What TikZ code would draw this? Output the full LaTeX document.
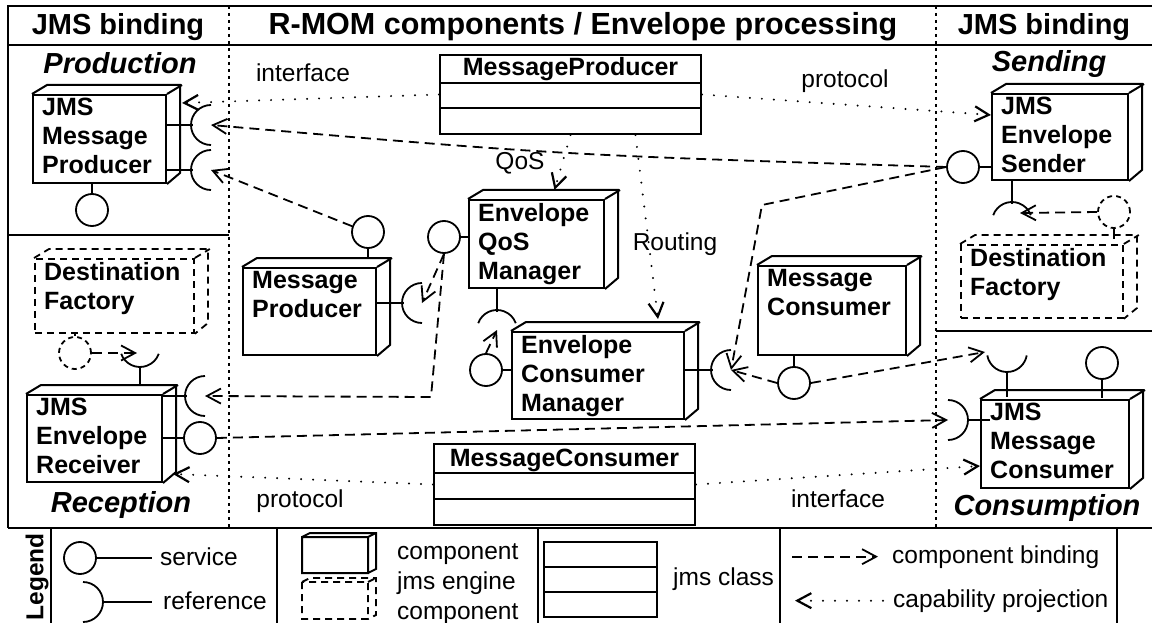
\documentclass[tikz,border=0pt]{standalone}
\usepackage{fontspec}
\setmainfont{Liberation Sans}
\usetikzlibrary{arrows.meta}
\tikzset{
    CP/.style ={rectangle,draw,line width=2pt,anchor=north west,inner sep=0pt},
    CPD/.style ={dash pattern=on 7pt off 5pt,line width=1.8pt},
    TX/.style ={anchor=north west,align=left,inner sep=4pt,font=\fontsize{25}{29}\selectfont\bfseries},
    CL/.style ={rectangle,draw,line width=2pt,inner sep=0pt},
    SV/.style ={circle,draw,line width=1.8pt,minimum size=32pt,inner sep=0pt},
    RF/.style ={line width=1.8pt},
    BI/.style ={line width=1.8pt,dash pattern=on 10pt off 6pt,-{Straight Barb[length=14pt,width=15pt]}},
    PR/.style ={line width=2.2pt,line cap=round,dash pattern=on 0pt off 12pt,-{Straight Barb[length=14pt,width=15pt]}},
    LB/.style ={inner sep=0pt,font=\fontsize{24.5}{29}\selectfont},
    HD/.style ={inner sep=0pt,anchor=base,font=\fontsize{29}{33}\selectfont\bfseries},
    SE/.style ={inner sep=0pt,anchor=base,font=\fontsize{29}{33}\selectfont\bfseries\itshape},
    FR/.style ={line width=2.4pt},
    FD/.style ={line width=2pt,dash pattern=on 3pt off 4pt}}
% [style] name, x, y, width, height, text
\newcommand{\compo}[7][]{%
    \node[CP,#1,minimum width=#5pt,minimum height=#6pt] (#2) at (#3,#4) {};
    \draw[line width=2pt,#1] (#2.north west) -- ++(15,-9) -- ++(#5,0) -- ++(0,#6)
        -- (#2.south east) (#2.north east) -- ++(15,-9);
    \node[TX] (#2-t) at ([xshift=6pt]#2.north west) {#7};}
\begin{document}
\begin{tikzpicture}[x=1pt,y=-1pt]
    \useasboundingbox (0,0) rectangle (1152,623);
    \draw[FR] (1152,6) -- (8,6) -- (8,528);
    \draw[FR] (8,45) -- (1152,45);
    \draw[FR] (8,528) -- (1152,528);
    \draw[FR] (8,235) -- (229,235);
    \draw[FR] (936,331) -- (1152,331);
    \draw[FD] (229,6) -- (229,528);
    \draw[FD] (936,6) -- (936,528);
    \foreach \x in {51,277,538,780,1117}{
        \draw[FR] (\x,528) -- (\x,623);}
    \node[HD] (hd-l) at (118,35) {JMS binding};
    \node[HD,font=\fontsize{30.5}{33}\selectfont\bfseries] (hd-m) at (583,35) {R-MOM components / Envelope processing};
    \node[HD] (hd-r) at (1044,35) {JMS binding};
    \node[SE] (se-pr) at (120,74) {Production};
    \node[SE] (se-re) at (121,512) {Reception};
    \node[SE] (se-se) at (1049,72) {Sending};
    \node[SE] (se-co) at (1047,515) {Consumption};
    \node[LB,anchor=base] (lb-if1) at (303,82) {interface};
    \node[LB,anchor=base] (lb-pr1) at (845,88) {protocol};
    \node[LB,anchor=base] (lb-qos) at (520,170) {QoS};
    \node[LB,anchor=base] (lb-rt) at (675,251) {Routing};
    \node[LB,anchor=base] (lb-pr2) at (300,507) {protocol};
    \node[LB,anchor=base] (lb-if2) at (838,507) {interface};
    \compo{jmp}{32}{94}{133}{88}{JMS\\Message\\Producer}
    \compo{snd}{991}{93}{136}{86}{JMS\\Envelope\\Sender}
    \compo{eqm}{468}{199}{135}{88}{Envelope\\QoS\\Manager}
    \compo{mp}{242}{267}{133}{87}{Message\\Producer}
    \compo{mc}{757}{265}{148}{89}{Message\\Consumer}
    \compo{ecm}{511}{331}{172}{87}{Envelope\\Consumer\\Manager}
    \compo{rcv}{26}{394}{135}{87}{JMS\\Envelope\\Receiver}
    \compo{jmc}{980}{399}{148}{88}{JMS\\Message\\Consumer}
    \compo[CPD]{dfl}{34}{258}{159}{74}{Destination\\Factory}
    \compo[CPD]{dfr}{960}{244}{162}{73}{Destination\\Factory}
    \node[CL,minimum width=261pt,minimum height=79pt] (mpc) at (570.5,94.5) {};
    \draw[line width=2pt] ([yshift=-29pt]mpc.north west) -- ([yshift=-29pt]mpc.north east)
        ([yshift=-54pt]mpc.north west) -- ([yshift=-54pt]mpc.north east);
    \node[TX,anchor=base] (mpc-t) at (570.5,76) {MessageProducer};
    \node[CL,minimum width=261pt,minimum height=81pt] (mcc) at (564.5,484.5) {};
    \draw[line width=2pt] ([yshift=-30pt]mcc.north west) -- ([yshift=-30pt]mcc.north east)
        ([yshift=-56pt]mcc.north west) -- ([yshift=-56pt]mcc.north east);
    \node[TX,anchor=base] (mcc-t) at (564.5,466) {MessageConsumer};
    \foreach \n/\x/\y in {jmp-s/92/210,snd-s/963/167,eqm-s/444/237,mp-s/368/232,
        mc-s/794/383,ecm-s/486/370,rcv-s/200/438,jmc-s/1102/363}{
        \node[SV] (\n) at (\x,\y) {};}
    \node[SV,dash pattern=on 5pt off 4pt] (dfl-s) at (75,353) {};
    \node[SV,dash pattern=on 5pt off 4pt] (dfr-s) at (1114,212) {};
    \draw[RF] (jmp-s.north) -- (jmp-s.north |- jmp.south);
    \draw[RF] (snd-s.east) -- (snd-s.east -| snd.west);
    \draw[RF] (eqm-s.east) -- (eqm-s.east -| eqm.west);
    \draw[RF] (mp-s.south) -- ++(0,9);
    \draw[RF] (mc-s.north) -- (mc-s.north |- mc.south);
    \draw[RF] (ecm-s.east) -- (ecm-s.east -| ecm.west);
    \draw[RF] (rcv-s.west) -- (rcv-s.west -| rcv.east);
    \draw[RF] (jmc-s.south) -- ++(0,18);
    \draw[RF] (dfl-s.north) -- (dfl-s.north |- dfl.south);
    \draw[RF] (dfr-s.south) -- ++(0,10);
    \coordinate (jmp-r1) at (211,125);
    \coordinate (jmp-r2) at (211,170);
    \coordinate (mp-r) at (422,303);
    \coordinate (eqm-r) at (497,330);
    \coordinate (ecm-r) at (731,370);
    \coordinate (rcv-r) at (205,396);
    \coordinate (rcv-rt) at (140,347);
    \coordinate (snd-r) at (1012,222);
    \coordinate (jmc-r) at (948,420);
    \coordinate (jmc-rt) at (1007,352);
    \foreach \n in {jmp-r1,jmp-r2,mp-r,ecm-r,rcv-r}{
        \draw[RF] (\n) ++(0,20) arc (90:270:20);}
    \draw[RF] (jmp.east |- jmp-r1) -- ++(26,0);
    \draw[RF] (jmp.east |- jmp-r2) -- ++(26,0);
    \draw[RF] (mp.east |- mp-r) -- ++(27,0);
    \draw[RF] (ecm.east |- ecm-r) -- ++(28,0);
    \draw[RF] (rcv.east |- rcv-r) -- ++(24,0);
    \draw[RF] (eqm-r) ++(200:20) arc (200:340:20);
    \draw[RF] (eqm.south -| eqm-r) -- ++(0,23);
    \draw[RF] (snd-r) ++(200:20) arc (200:340:20);
    \draw[RF] (snd.south -| snd-r) -- ++(0,23);
    \draw[RF] (rcv-rt) ++(160:20) arc (160:20:20);
    \draw[RF] (rcv-rt) ++(0,20) -- ++(0,17);
    \draw[RF] (jmc-r) ++(0,-20) arc (-90:90:20);
    \draw[RF] (jmc-r) ++(20,0) -- ++(22,0);
    \draw[RF] (jmc-rt) ++(170:20) arc (170:10:20);
    \draw[RF] (jmc-rt) ++(0,20) -- ++(0,25);
    \coordinate (jmp-if) at (182,103);
    \coordinate (rcv-if) at (173,474);
    \draw[PR] (mpc.west) -- (jmp-if);
    \draw[PR] (mpc.east) -- ([yshift=22pt]snd.west);
    \draw[PR] (mpc.south) -- ([xshift=18pt,yshift=9pt]eqm.north);
    \draw[PR] ([xshift=65pt]mpc.south) -- ([xshift=60pt,yshift=12pt]ecm.north);
    \draw[PR] (mcc.west) -- (rcv-if);
    \draw[PR] (mcc.east) -- ([yshift=-22pt]jmc.west);
    \draw[BI] (snd-s.west) .. controls (560,155) .. (jmp-r1);
    \draw[BI] (snd-s.west) -- (762,205) -- (ecm-r);
    \draw[BI] (mp-s.160) -- (jmp-r2);
    \draw[BI] (eqm-s.south) -- (mp-r);
    \draw[BI] (eqm-s.south) -- (431,397) -- (rcv-r);
    \draw[BI] (ecm-s.north) -- (eqm-r);
    \draw[BI] (mc-s.west) -- (ecm-r);
    \draw[BI] (mc-s.east) -- ([xshift=-22pt]jmc-rt);
    \draw[BI] (rcv-s.east) -- (jmc-r);
    \draw[BI] (dfl-s.east) -- ([xshift=-3pt,yshift=-6pt]rcv-rt);
    \draw[BI] (dfr-s.west) -- ([xshift=8pt,yshift=9pt]snd-r);
    \node[rotate=90,inner sep=0pt,font=\fontsize{24.5}{29}\selectfont\bfseries] (lg) at (37,577) {Legend};
    \node[SV] (lg-s) at (80,558) {};
    \draw[RF] (lg-s.east) -- (152,558);
    \node[LB,anchor=base west] (lg-st) at (160,565) {service};
    \coordinate (lg-r) at (83,602);
    \draw[RF] (lg-r) ++(0,-20) arc (-90:90:20);
    \draw[RF] (lg-r) ++(20,0) -- (152,602);
    \node[LB,anchor=base west] (lg-rt) at (163,609) {reference};
    \draw[line width=2pt] (302,537) rectangle (368,573) (302,537) -- (310,533) -- (376,533)
        -- (376,569) -- (368,573) (368,537) -- (376,533);
    \draw[line width=1.6pt,CPD] (302,582) rectangle (368,619) (302,582) -- (310,578) -- (376,578)
        -- (376,615) -- (368,619) (368,582) -- (376,578);
    \node[LB,anchor=base west] (lg-c1) at (397,559) {component};
    \node[LB,anchor=base west] (lg-c2) at (397,589) {jms engine};
    \node[LB,anchor=base west] (lg-c3) at (397,619) {component};
    \draw[line width=2pt] (544,542) rectangle (657,617) (544,567) -- (657,567) (544,592) -- (657,592);
    \node[LB,anchor=base west] (lg-cl) at (673,585) {jms class};
    \node[LB,anchor=base west] (lg-bt) at (892,563) {component binding};
    \draw[BI] ([xshift=-100pt]lg-bt.west) -- ([xshift=-14pt]lg-bt.west);
    \node[LB,anchor=base west] (lg-pt) at (893,607) {capability projection};
    \draw[PR] ([xshift=-10pt]lg-pt.west) -- ([xshift=-98pt]lg-pt.west);
\end{tikzpicture}
\end{document}
